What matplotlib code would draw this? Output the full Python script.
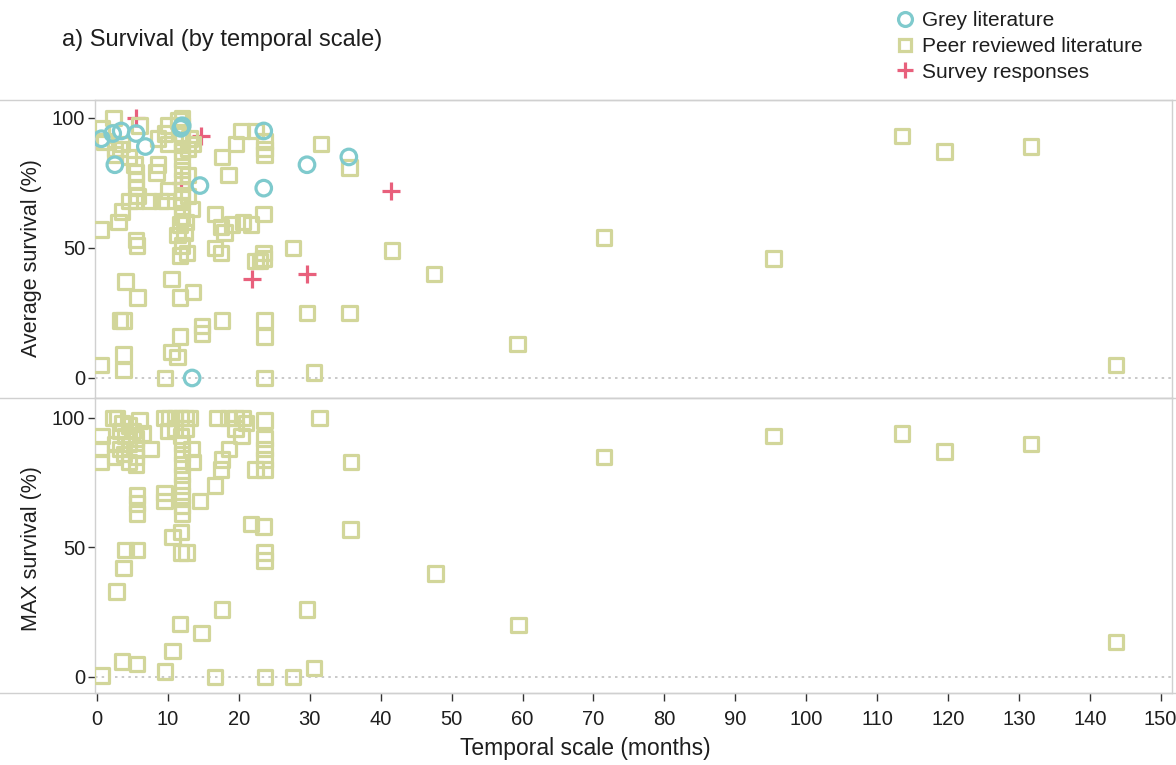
import matplotlib
matplotlib.use("Agg")
import matplotlib.pyplot as plt
from matplotlib.lines import Line2D

plt.rcParams['font.family'] = ['Liberation Sans', 'DejaVu Sans']

# ---------------- data ----------------
# Average survival panel
peer_avg_month = [0.5, 0.5, 0.7, 1.0, 2.3, 2.5, 3.2, 2.5, 3.5, 3.0, 3.2, 3.7, 3.5, 4.0, 3.7, 3.7, 4.5,
                  5.3, 5.5, 5.5, 5.5, 5.7, 5.5, 5.5, 5.6, 5.7, 6.0, 4.6,
                  7.3, 8.6, 8.4, 8.6, 9.6, 10.0, 9.0, 9.8, 10.0, 9.6, 10.0,
                  10.5, 10.5, 11.3, 11.7, 11.7, 11.7, 12.0, 11.7, 12.0, 12.0, 12.0, 12.0, 12.0, 12.0,
                  12.0, 12.0, 12.0, 12.0, 12.0, 12.0, 11.5, 11.3, 12.5, 12.7, 12.3,
                  13.5, 14.8, 14.8, 12.8, 13.5, 13.0, 12.8, 13.3, 12.8,
                  16.6, 16.6, 17.5, 17.5, 17.6, 17.6, 18.5, 19.6, 20.4, 19.0, 18.0,
                  20.6, 21.7, 22.3, 23.5, 23.5, 23.5, 23.6, 23.6, 23.6, 23.6, 23.6, 23.6, 22.3, 23.0,
                  27.6, 29.6, 30.6, 31.6, 35.6, 35.6, 41.6, 47.5, 59.3, 71.5, 95.4, 113.5, 119.5,
                  131.7, 143.7]
peer_avg_value = [5, 57, 96, 91, 100, 88, 88, 86, 90, 60, 22, 22, 64, 37, 9, 3, 85,
                  82, 79, 76, 73, 70, 68, 53, 51, 31, 97, 68,
                  68, 82, 79, 92, 94, 97, 68, 68, 72, 0, 90,
                  38, 10, 8, 16, 31, 47, 51, 59, 62, 66, 69, 72, 76, 80,
                  84, 87, 91, 94, 97, 100, 99, 55, 60, 48, 56,
                  33, 20, 17, 88, 90, 92, 78, 65, 70,
                  63, 50, 48, 58, 22, 85, 78, 90, 95, 59, 56,
                  60, 59, 45, 48, 46, 63, 86, 88, 91, 22, 16, 0, 95, 45,
                  50, 25, 2, 90, 25, 81, 49, 40, 13, 54, 46, 93, 87,
                  89, 5]

grey_avg_month = [0.6, 2.2, 3.4, 5.5, 6.8, 2.5, 11.8, 12.0, 14.5, 23.5, 23.5, 29.6, 35.5, 13.4]
grey_avg_value = [92, 94, 95, 94, 89, 82, 96, 97, 74, 95, 73, 82, 85, 0]

survey_avg_month = [5.5, 14.7, 41.5, 21.9, 29.6, 11.8]
survey_avg_value = [100, 93, 72, 38, 40, 75]

# MAX survival panel
peer_max_month = [0.5, 0.5, 0.6, 2.3, 2.8, 3.5, 3.3, 4.0, 4.5, 2.6, 3.2, 3.8, 4.5, 5.0, 5.5, 5.5,
                  5.5, 5.5, 6.0, 6.5, 7.5, 4.5, 2.5,
                  5.6, 5.6, 5.6, 0.6, 3.5, 5.6, 2.7, 3.7, 4.0, 5.6,
                  9.5, 10.2, 11.0, 11.8, 12.5, 13.0, 10.0, 11.0, 11.8, 12.0, 12.0, 12.0, 12.0,
                  12.0, 12.0, 12.0, 12.0, 11.8, 10.6, 11.8, 12.6, 9.5, 9.5, 13.5, 14.5, 10.6,
                  9.6, 11.7, 14.7, 12.5, 13.3,
                  16.6, 17.5, 17.6, 18.6, 17.0, 18.5, 19.5, 20.5, 21.0, 20.4, 19.5, 21.7, 22.3,
                  23.5, 23.6, 23.6, 23.6, 23.6, 23.6, 23.6, 23.6, 16.6, 17.6, 23.7,
                  27.6, 29.6, 30.6, 31.4, 35.8, 35.7, 47.7, 59.4, 71.5, 95.4, 113.5, 119.5,
                  131.7, 143.7]
peer_max_value = [83, 88, 93, 100, 100, 98, 95, 93, 97, 90, 88, 86, 90, 95, 92, 88,
                  85, 82, 99, 94, 88, 83, 85,
                  70, 67, 63, 0.5, 6, 5, 33, 42, 49, 49,
                  100, 100, 100, 100, 100, 100, 95, 96, 93, 90, 86, 82, 78,
                  74, 70, 66, 63, 56, 54, 48, 48, 71, 68, 83, 68, 10,
                  2, 20.5, 17, 96, 88,
                  74, 80, 84, 88, 100, 100, 100, 100, 98, 93, 96, 59, 80,
                  58, 48, 45, 80, 84, 88, 92, 99, 0, 26, 0,
                  0, 26, 3.5, 100, 83, 57, 40, 20, 85, 93, 94, 87,
                  90, 13.5]

x_ticks = list(range(0, 151, 10))
y_ticks = [0, 50, 100]

# ---------------- style ----------------
c_peer = '#d2d69a'
c_grey = '#7fcacd'
c_survey = '#e8607c'
txt = '#1e1e1e'
W, H = 1176, 765
fig = plt.figure(figsize=(W / 100, H / 100), dpi=100)

def fx(px):
    return px / W

def fy(py):
    return 1 - py / H

ax1 = fig.add_axes([fx(95), fy(398), fx(1172) - fx(95), fy(100) - fy(398)])
ax2 = fig.add_axes([fx(95), fy(693), fx(1172) - fx(95), fy(398) - fy(693)])

sq_kw = dict(marker='s', s=110, facecolors='none', edgecolors=c_peer, linewidths=2.3)
ci_kw = dict(marker='o', s=125, facecolors='none', edgecolors=c_grey, linewidths=2.3)
pl_kw = dict(marker='+', s=170, color=c_survey, linewidths=2.3)

ax1.scatter(survey_avg_month, survey_avg_value, zorder=2, **pl_kw)
ax1.scatter(peer_avg_month, peer_avg_value, zorder=3, **sq_kw)
ax1.scatter(grey_avg_month, grey_avg_value, zorder=4, **ci_kw)
ax2.scatter(peer_max_month, peer_max_value, zorder=3, **sq_kw)

for ax, ylab, ylim, ymid in [(ax1, 'Average survival (%)', (-7.7, 106.9), 0.47),
                             (ax2, 'MAX survival (%)', (-6.2, 107.7), 0.49)]:
    ax.set_xlim(-0.3, 151.6)
    ax.set_ylim(*ylim)
    ax.axhline(0, color='#c0c0c0', linestyle=(0, (1.5, 2.5)), linewidth=1.2, zorder=1)
    ax.set_yticks(y_ticks)
    ax.set_xticks(x_ticks)
    for s in ax.spines.values():
        s.set_color('#d0d0d0')
        s.set_linewidth(1.0)
    ax.tick_params(axis='y', length=5, width=1, color='#333333', labelsize=14.5, labelcolor=txt, pad=2)
    ax.set_ylabel(ylab, fontsize=15.5, color=txt)
    bb = ax.get_position()
    ax.yaxis.set_label_coords((fx(42) - bb.x0) / bb.width, ymid)

ax1.tick_params(axis='x', bottom=False, labelbottom=False)
ax2.tick_params(axis='x', length=6, width=1, color='#333333', labelsize=14.5, labelcolor=txt, pad=6)
ax2.set_xlabel('Temporal scale (months)', fontsize=16.5, color=txt)
bb2 = ax2.get_position()
ax2.xaxis.set_label_coords((fx(585) - bb2.x0) / bb2.width, (fy(748) - bb2.y0) / bb2.height)
ax2.xaxis.label.set_va('center')

# horizontal separators spanning full width
for py in (100, 398, 693):
    fig.add_artist(Line2D([0, 1], [fy(py), fy(py)], transform=fig.transFigure,
                          color='#d0d0d0', linewidth=1.0))

fig.text(fx(62), fy(40), 'a) Survival (by temporal scale)', fontsize=17, color=txt,
         va='center', ha='left')

handles = [
    Line2D([], [], marker='o', linestyle='none', markersize=10, markerfacecolor='none',
           markeredgecolor=c_grey, markeredgewidth=2.3),
    Line2D([], [], marker='s', linestyle='none', markersize=9, markerfacecolor='none',
           markeredgecolor=c_peer, markeredgewidth=2.3),
    Line2D([], [], marker='+', linestyle='none', markersize=11, color=c_survey,
           markeredgewidth=2.3),
]
labels = ['Grey literature', 'Peer reviewed literature', 'Survey responses']
fig.legend(handles, labels, loc='upper left', bbox_to_anchor=(fx(888), fy(3)), frameon=False,
           fontsize=15, handlelength=0.8, handletextpad=0.45, labelspacing=0.32,
           borderaxespad=0, labelcolor=txt)

fig.savefig('out.png', dpi=100)
